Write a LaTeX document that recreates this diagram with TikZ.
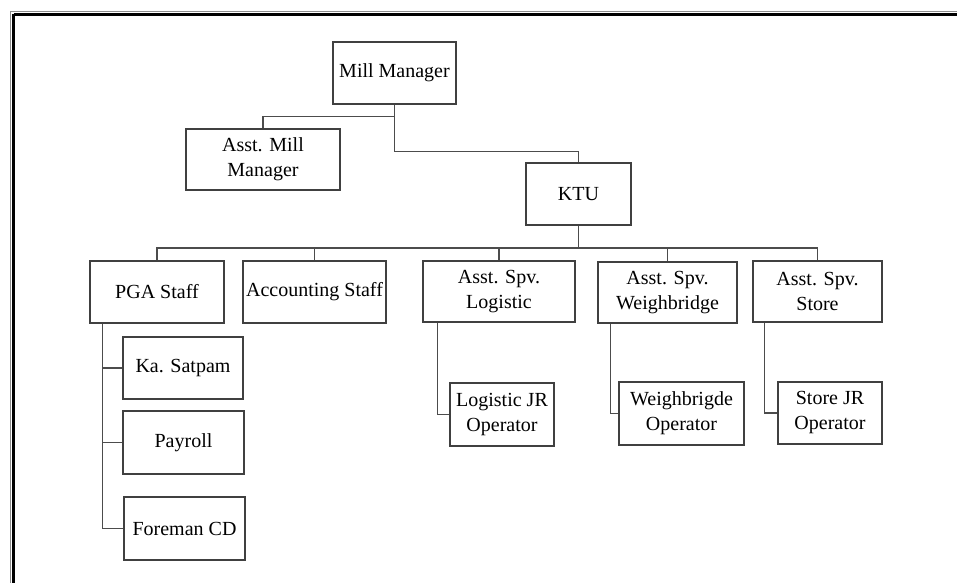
\documentclass[tikz,border=0pt]{standalone}
\usepackage{fontspec}
\setmainfont{Liberation Serif}
\usepackage{tikz}
\usetikzlibrary{positioning}

\begin{document}
\begin{tikzpicture}[x=1pt, y=-1pt,
  unit/.style={draw=black!75, line width=1.3pt, align=center, inner sep=2pt,
    font=\fontsize{20}{25}\selectfont},
  link/.style={draw=black!70, line width=1.3pt},
  frame/.style={line width=2.6pt, black}]
  \useasboundingbox (0,0) rectangle (957,583);
  % 外框
  \draw[black!45, line width=1pt] (10,11.5) -- (957,11.5);
  \draw[black!45, line width=1pt] (10,11.5) -- (10,583);
  \draw[frame] (13.5,14.5) -- (957,14.5);
  \draw[frame] (13.5,14.5) -- (13.5,583);
  % 上层
  \node[unit, minimum width=123pt, minimum height=62pt] (mm) at (394.5,73) {Mill Manager};
  \node[unit, minimum width=154pt, minimum height=61pt] (amm) at (263,159.5) {Asst. Mill\\Manager};
  \node[unit, minimum width=105pt, minimum height=62pt] (ktu) at (578.5,194) {KTU};
  % 中层
  \node[unit, minimum width=134pt, minimum height=62pt] (pga) at (157,292) {PGA Staff};
  \node[unit, minimum width=143pt, minimum height=62pt] (acc) at (314.5,292) {Accounting Staff};
  \node[unit, minimum width=152pt, minimum height=61pt] (log) at (499,291.5) {Asst. Spv.\\Logistic};
  \node[unit, minimum width=139pt, minimum height=61pt] (wb) at (667.5,292.5) {Asst. Spv.\\Weighbridge};
  \node[unit, minimum width=129pt, minimum height=61pt] (sto) at (817.5,291.5) {Asst. Spv.\\Store};
  % 下层
  \node[unit, minimum width=120pt, minimum height=62pt] (sat) at (183,368) {Ka. Satpam};
  \node[unit, minimum width=121pt, minimum height=63pt] (pay) at (183.5,442.5) {Payroll};
  \node[unit, minimum width=121pt, minimum height=63pt] (fcd) at (184.5,528.5) {Foreman CD};
  \node[unit, minimum width=104pt, minimum height=63pt] (ljr) at (502,414.5) {Logistic JR\\Operator};
  \node[unit, minimum width=125pt, minimum height=63pt] (wop) at (681.5,413.5) {Weighbrigde\\Operator};
  \node[unit, minimum width=104pt, minimum height=62pt] (sjr) at (830,413) {Store JR\\Operator};
  % 连线
  \draw[link] (mm.south) -- ++(0,12) -| (amm.north);
  \draw[link] (mm.south) -- ++(0,47) -| (ktu.north);
  \coordinate (bus) at (578.5,248);
  \draw[link] (ktu.south) -- (bus);
  \foreach \n in {pga,acc,log,wb,sto}
    \draw[link] (bus) -| (\n.north);
  \foreach \n in {sat,pay,fcd}
    \draw[link] ([xshift=13pt]pga.south west) |- (\n.west);
  \draw[link] ([xshift=15pt]log.south west) |- (ljr.west);
  \draw[link] ([xshift=13pt]wb.south west) |- (wop.west);
  \draw[link] ([xshift=12pt]sto.south west) |- (sjr.west);
\end{tikzpicture}
\end{document}
